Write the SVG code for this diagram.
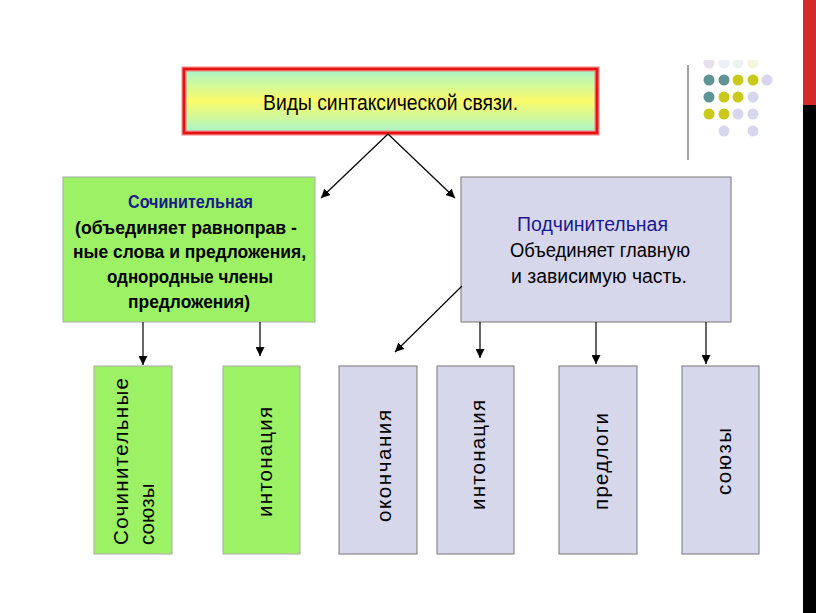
<svg xmlns="http://www.w3.org/2000/svg" width="816" height="613" viewBox="0 0 816 613">
<defs>
<linearGradient id="tg" x1="0" y1="0" x2="0" y2="1">
<stop offset="0" stop-color="#a6f5cc"/>
<stop offset="0.5" stop-color="#fbfb6a"/>
<stop offset="1" stop-color="#a6f5cc"/>
</linearGradient>
<marker id="ah" viewBox="0 0 10 10" refX="10" refY="5" markerWidth="9" markerHeight="9" markerUnits="userSpaceOnUse" orient="auto">
<path d="M0,0 L10,5 L0,10 Z" fill="#000"/>
</marker>
<clipPath id="dotclip"><rect x="690" y="60" width="100" height="100"/></clipPath>
</defs>
<style>
text{font-family:"Liberation Sans",Arial,sans-serif;fill:#000}
text.blue{fill:#1a1a8c}
.g{fill:#9cf164;stroke:#aaa;stroke-width:1}
.l{fill:#d7d7ec;stroke:#777;stroke-width:1}
.vt{font-size:20.5px}
.conn line{stroke:#000;stroke-width:1.2;marker-end:url(#ah)}
</style>
<rect width="816" height="613" fill="#fff"/>
<rect x="803" y="0" width="13" height="105" fill="#d42a2a"/>
<rect x="803" y="105" width="13" height="508" fill="#000"/>
<line x1="688" y1="65" x2="688" y2="160" stroke="#666" stroke-width="1.2"/>
<g id="dots">
<g clip-path="url(#dotclip)" opacity="0.35">
<circle cx="709" cy="63" r="5.5" fill="#b9a8c8"/>
<circle cx="724" cy="63" r="5.5" fill="#c8d8e8"/>
<circle cx="738" cy="63" r="5.5" fill="#c8dcd8"/>
<circle cx="753" cy="63" r="5.5" fill="#e8e8a0"/>
</g>
<circle cx="709" cy="80" r="5.5" fill="#5f9394"/>
<circle cx="724" cy="80" r="5.5" fill="#5f9394"/>
<circle cx="738" cy="80" r="5.5" fill="#c9c91a"/>
<circle cx="753" cy="80" r="5.5" fill="#c9c91a"/>
<circle cx="767" cy="80" r="5.5" fill="#d6d6ec"/>
<circle cx="709" cy="97" r="5.5" fill="#5f9394"/>
<circle cx="724" cy="97" r="5.5" fill="#c9c91a"/>
<circle cx="738" cy="97" r="5.5" fill="#c9c91a"/>
<circle cx="753" cy="97" r="5.5" fill="#d6d6ec"/>
<circle cx="709" cy="114" r="5.5" fill="#c9c91a"/>
<circle cx="724" cy="114" r="5.5" fill="#c9c91a"/>
<circle cx="738" cy="114" r="5.5" fill="#d6d6ec"/>
<circle cx="753" cy="114" r="5.5" fill="#d6d6ec"/>
<circle cx="724" cy="131" r="5.5" fill="#d6d6ec"/>
<circle cx="753" cy="131" r="5.5" fill="#d6d6ec"/>
</g>
<g id="top">
<rect x="184" y="69" width="413" height="64" fill="url(#tg)" stroke="#f08080" stroke-width="5"/>
<rect x="184" y="69" width="413" height="64" fill="none" stroke="#e81010" stroke-width="2.5"/>
<text x="263" y="110" font-size="22.5" textLength="255" lengthAdjust="spacingAndGlyphs">Виды синтаксической связи.</text>
</g>
<g id="coord">
<rect x="63" y="177" width="252" height="145" class="g"/>
<g font-size="18.5" font-weight="bold">
<text class="blue" x="128" y="208" textLength="125" lengthAdjust="spacingAndGlyphs">Сочинительная</text>
<text x="75" y="234" textLength="222" lengthAdjust="spacingAndGlyphs">(объединяет равноправ -</text>
<text x="73" y="258" textLength="233" lengthAdjust="spacingAndGlyphs">ные слова и предложения,</text>
<text x="107" y="283" textLength="166" lengthAdjust="spacingAndGlyphs">однородные члены</text>
<text x="128" y="308" textLength="122" lengthAdjust="spacingAndGlyphs">предложения)</text>
</g>
</g>
<g id="subord">
<rect x="461" y="177" width="270" height="145" class="l"/>
<g font-size="19.5">
<text class="blue" x="517" y="231" textLength="151" lengthAdjust="spacingAndGlyphs">Подчинительная</text>
<text x="510" y="257" textLength="180" lengthAdjust="spacingAndGlyphs">Объединяет главную</text>
<text x="511" y="283" textLength="176" lengthAdjust="spacingAndGlyphs">и зависимую часть.</text>
</g>
</g>
<g id="b1">
<rect x="94" y="366" width="78" height="188" class="g"/>
<text class="vt" transform="translate(128,545) rotate(-90)" textLength="167" lengthAdjust="spacing">Сочинительные</text>
<text class="vt" transform="translate(154,545) rotate(-90)">союзы</text>
</g>
<g id="b2">
<rect x="223" y="366" width="77" height="188" class="g"/>
<text class="vt" transform="translate(272,517) rotate(-90)" textLength="110" lengthAdjust="spacing">интонация</text>
</g>
<g id="b3">
<rect x="339" y="366" width="78" height="188" class="l"/>
<text class="vt" transform="translate(391,522) rotate(-90)" textLength="112" lengthAdjust="spacing">окончания</text>
</g>
<g id="b4">
<rect x="437" y="366" width="77" height="188" class="l"/>
<text class="vt" transform="translate(485,510) rotate(-90)" textLength="110" lengthAdjust="spacing">интонация</text>
</g>
<g id="b5">
<rect x="559" y="366" width="78" height="188" class="l"/>
<text class="vt" transform="translate(608,510) rotate(-90)" textLength="97" lengthAdjust="spacing">предлоги</text>
</g>
<g id="b6">
<rect x="682" y="366" width="77" height="188" class="l"/>
<text class="vt" transform="translate(731,495) rotate(-90)" textLength="67" lengthAdjust="spacing">союзы</text>
</g>
<g class="conn" id="connectors">
<line x1="388" y1="134" x2="321" y2="198"/>
<line x1="388" y1="134" x2="455" y2="198"/>
<line x1="143" y1="322" x2="143" y2="365"/>
<line x1="260" y1="322" x2="260" y2="356"/>
<line x1="462" y1="286" x2="395" y2="352"/>
<line x1="480" y1="322" x2="480" y2="358"/>
<line x1="596" y1="322" x2="596" y2="364"/>
<line x1="706" y1="322" x2="706" y2="364"/>
</g>
</svg>
